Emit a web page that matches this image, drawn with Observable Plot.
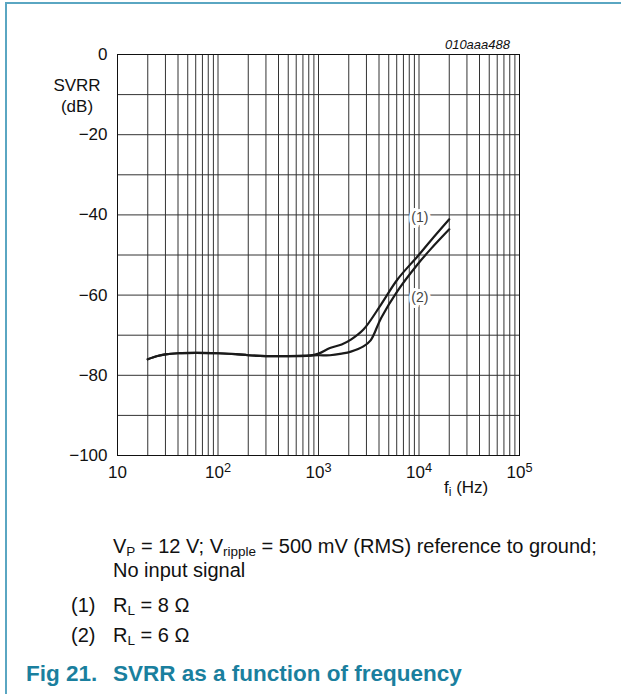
<!DOCTYPE html>
<html>
<head>
<meta charset="utf-8">
<script src="https://cdn.jsdelivr.net/npm/d3@7"></script>
<script src="https://cdn.jsdelivr.net/npm/@observablehq/plot@0.6"></script>
<style>
  html, body { margin: 0; padding: 0; background: #fff; }
  body { width: 621px; height: 694px; position: relative; overflow: hidden;
         font-family: "Liberation Sans", Arial, sans-serif; color: #111; }
  #frameTop { position: absolute; left: 5px; top: 2px; width: 616px; height: 0; border-top: 2px solid #5aa6c2; }
  #frameLeft { position: absolute; left: 5px; top: 2px; width: 0; height: 692px; border-left: 2px solid #5aa6c2; }
  #chart { position: absolute; left: 0; top: 0; }
  .lbl { position: absolute; font-size: 17px; line-height: 21px; white-space: nowrap; }
  .cap { position: absolute; font-size: 20px; line-height: 22px; white-space: nowrap; }
  .cap sub { font-size: 13.5px; vertical-align: -3px; line-height: 0; }
  .fig { position: absolute; font-size: 22.5px; line-height: 26px; font-weight: bold; color: #1a7f9e; white-space: nowrap; }
</style>
</head>
<body>
<div id="frameTop"></div>
<div id="frameLeft"></div>
<div id="chart"></div>
<div class="lbl" style="left:380px; top:37px; font-style:italic; font-size:13px; line-height:16px; width:130px; text-align:right;">010aaa488</div>
<div class="lbl" style="left:27px; top:75px; width:100px; text-align:center;">SVRR<br>(dB)</div>
<div class="lbl" style="left:444px; top:477px;">f<sub style="font-size:12px; vertical-align:-3px; line-height:0;">i</sub> (Hz)</div>
<div class="cap" style="left:113px; top:535px;">V<sub>P</sub> = 12 V; V<sub>ripple</sub> = 500 mV (RMS) reference to ground;</div>
<div class="cap" style="left:113px; top:559px;">No input signal</div>
<div class="cap" style="left:71px; top:594px;">(1)</div>
<div class="cap" style="left:113px; top:594px;">R<sub>L</sub> = 8 Ω</div>
<div class="cap" style="left:71px; top:624px;">(2)</div>
<div class="cap" style="left:113px; top:624px;">R<sub>L</sub> = 6 Ω</div>
<div class="fig" style="left:26px; top:661px;">Fig 21.</div>
<div class="fig" style="left:113px; top:661px;">SVRR as a function of frequency</div>
<script>
// ---- data ----
const freq1 = [20, 25, 30, 40, 60, 100, 150, 200, 300, 500, 800, 1000, 1300, 1700, 2100, 2800, 4200, 6100, 9700, 13000, 20000];
const svrr1 = [-76, -75.2, -74.8, -74.5, -74.4, -74.5, -74.7, -75, -75.2, -75.2, -75.1, -74.6, -73.2, -72.3, -71.1, -68.6, -62.3, -56.1, -50.3, -46.5, -41.1];
const freq2 = [20, 25, 30, 40, 60, 100, 150, 200, 300, 500, 800, 1000, 1300, 1700, 2100, 2800, 3300, 4200, 6100, 9700, 13000, 20000];
const svrr2 = [-76, -75.2, -74.8, -74.5, -74.4, -74.5, -74.7, -75, -75.2, -75.2, -75.1, -75, -75, -74.6, -74.1, -72.8, -71.3, -65.7, -59, -52.3, -48.6, -43.6];

const xTicks = [10, 100, 1000, 10000, 100000];
const xTickLabels = ["10", "10^2", "10^3", "10^4", "10^5"];
const yTicks = [0, -20, -40, -60, -80, -100];
const yTickLabels = ["0", "\u221220", "\u221240", "\u221260", "\u221280", "\u2212100"];
const xGrid = [20, 30, 40, 50, 60, 70, 80, 90,
               100, 200, 300, 400, 500, 600, 700, 800, 900,
               1000, 2000, 3000, 4000, 5000, 6000, 7000, 8000, 9000,
               10000, 20000, 30000, 40000, 50000, 60000, 70000, 80000, 90000];
const yGrid = [-10, -20, -30, -40, -50, -60, -70, -80, -90];
const curveLabels = ["(1)", "(2)"];
const labelFreq = [10200, 10200];
const labelSvrr = [-40.7, -60.5];

const series = [
  ...freq1.map((f, i) => ({f, v: svrr1[i], s: "1"})),
  ...freq2.map((f, i) => ({f, v: svrr2[i], s: "2"}))
];
const labels = curveLabels.map((t, i) => ({t, f: labelFreq[i], v: labelSvrr[i]}));

const chart = Plot.plot({
  width: 621,
  height: 510,
  marginLeft: 117,
  marginRight: 102,
  marginTop: 54,
  marginBottom: 55,
  style: {fontFamily: "'Liberation Sans', Arial, sans-serif", fontSize: "17px", color: "#111", background: "transparent"},
  x: {type: "log", domain: [10, 100000], ticks: xTicks, tickFormat: d => xTickLabels[xTicks.indexOf(d)], label: null},
  y: {domain: [-100, 0], ticks: yTicks, tickFormat: d => yTickLabels[yTicks.indexOf(d)], label: null},
  marks: [
    Plot.ruleX(xGrid, {stroke: "#333", strokeWidth: 1}),
    Plot.ruleY(yGrid, {stroke: "#333", strokeWidth: 1}),
    Plot.frame({stroke: "#111", strokeWidth: 1}),
    Plot.line(series, {x: "f", y: "v", z: "s", curve: "catmull-rom", stroke: "#1a1a1a", strokeWidth: 2.2}),
    Plot.text(labels, {x: "f", y: "v", text: "t", fill: "#444", stroke: "white", strokeWidth: 6, fontSize: 14}),
    Plot.axisX(xTicks, {tickSize: 0, tickPadding: 10, fontSize: 17, tickFormat: d => xTickLabels[xTicks.indexOf(d)]}),
    Plot.axisY(yTicks, {tickSize: 0, tickPadding: 10, fontSize: 17, tickFormat: d => yTickLabels[yTicks.indexOf(d)]})
  ]
});
document.getElementById("chart").appendChild(chart);

// render exponents as real superscripts
d3.select(chart).selectAll("text").each(function() {
  const t = this.textContent;
  const m = /^10\^(\d)$/.exec(t);
  if (m) {
    const sel = d3.select(this);
    sel.text(null);
    sel.append("tspan").text("10");
    sel.append("tspan").attr("dy", "-0.42em").attr("font-size", "0.75em").text(m[1]);
  }
});
</script>
</body>
</html>
